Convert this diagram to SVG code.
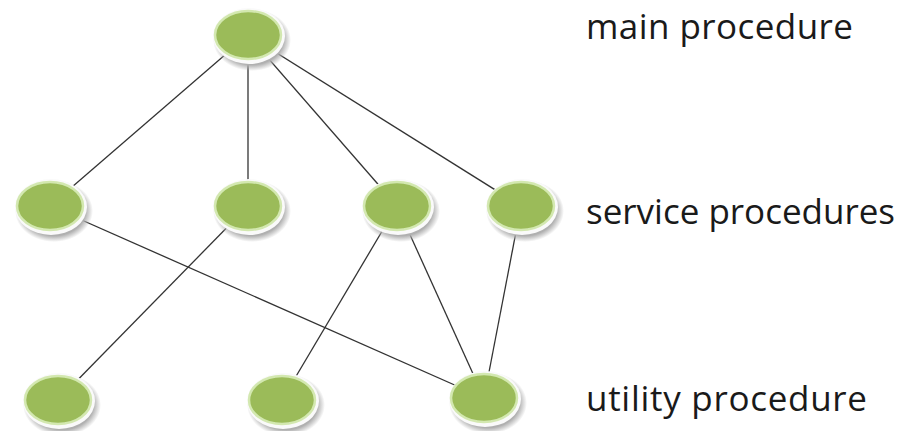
<svg xmlns="http://www.w3.org/2000/svg" width="904" height="431" viewBox="0 0 904 431">
<defs>
<radialGradient id="sh" cx="0.5" cy="0.5" r="0.5">
<stop offset="0.8" stop-color="#b0b0b0"/>
<stop offset="1" stop-color="#b0b0b0" stop-opacity="0"/>
</radialGradient>
<g id="node">
<ellipse cx="4" cy="5" rx="39" ry="31" fill="url(#sh)"/>
<ellipse cx="1" cy="1" rx="36" ry="28" fill="#fafafa"/>
<ellipse cx="0" cy="0" rx="33" ry="24" fill="#9bbb59" stroke="#d3e8b0" stroke-width="2.5"/>
</g>
</defs>
<style>
.edge{stroke:#333;stroke-width:1.3;fill:none}
.lbl{font-family:"Open Sans","Noto Sans",sans-serif;font-size:35px;fill:#1a1a1a}
</style>
<rect width="904" height="431" fill="#fff"/>
<g id="connectors">
<line class="edge" x1="248" y1="35" x2="50" y2="206"/>
<line class="edge" x1="248" y1="35" x2="248" y2="206"/>
<line class="edge" x1="248" y1="35" x2="397" y2="206"/>
<line class="edge" x1="248" y1="35" x2="521" y2="206"/>
<line class="edge" x1="50" y1="206" x2="484" y2="398"/>
<line class="edge" x1="248" y1="206" x2="58" y2="400"/>
<line class="edge" x1="397" y1="206" x2="282" y2="400"/>
<line class="edge" x1="397" y1="206" x2="484" y2="398"/>
<line class="edge" x1="521" y1="206" x2="484" y2="398"/>
</g>
<g id="n-main"><use href="#node" x="248" y="35"/></g>
<g id="n-s1"><use href="#node" x="50" y="206"/></g>
<g id="n-s2"><use href="#node" x="248" y="206"/></g>
<g id="n-s3"><use href="#node" x="397" y="206"/></g>
<g id="n-s4"><use href="#node" x="521" y="206"/></g>
<g id="n-u1"><use href="#node" x="58" y="400"/></g>
<g id="n-u2"><use href="#node" x="282" y="400"/></g>
<g id="n-u3"><use href="#node" x="484" y="398"/></g>
<g id="labels">
<text class="lbl" x="586" y="39" textLength="267">main procedure</text>
<text class="lbl" x="586" y="224" textLength="309">service procedures</text>
<text class="lbl" x="586" y="411" textLength="281">utility procedure</text>
</g>
</svg>
